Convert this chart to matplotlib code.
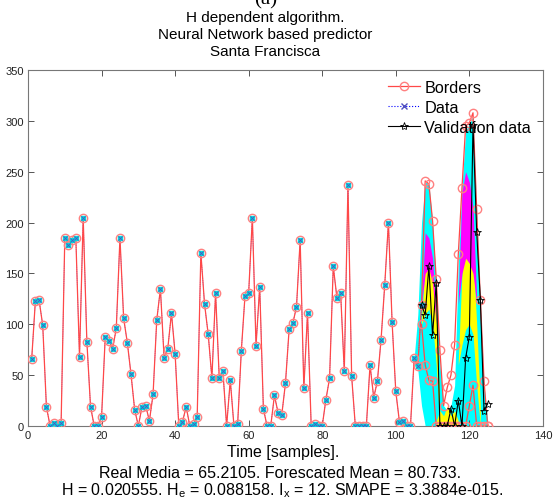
import matplotlib
matplotlib.use("Agg")
import matplotlib.pyplot as plt
import numpy as np
from matplotlib.lines import Line2D

plt.rcParams["font.family"] = ["Liberation Sans", "DejaVu Sans"]

# observed series (samples 1..104) followed by the upper border of the forecast zone
t_all = np.arange(1, 126)
borders = [66, 123, 124, 99, 19, 0, 3, 0, 3, 185, 178, 183, 185, 68, 205, 83, 19, 0, 0, 9,
           88, 84, 76, 96, 185, 106, 82, 51, 16, 0, 19, 20, 5, 31, 104, 135, 67, 76, 111, 71,
           0, 4, 19, 0, 2, 9, 170, 120, 90, 47, 131, 47, 54, 0, 45, 0, 2, 74, 128, 131,
           205, 79, 137, 17, 0, 0, 30, 13, 11, 42, 95, 101, 117, 183, 37, 111, 0, 2, 0, 0,
           26, 47, 157, 126, 131, 54, 237, 49, 0, 0, 0, 0, 60, 28, 44, 85, 139, 200, 102, 34,
           4, 5, 0, 0, 67, 59, 119, 241, 238, 202, 145, 75, 20, 38, 50, 80, 169, 234, 295, 298,
           308, 213, 124, 44, 0]

# lower border in the forecast zone
t_low = np.arange(107, 126)
low_border = [100, 60, 45, 44, 0, 0, 0, 0, 0, 0, 0, 0, 0, 20, 40, 0, 0, 0, 0]

# data = observed part
t_data = np.arange(1, 108)
data = borders[:107]

# validation data
t_val = np.arange(107, 126)
validation = [119, 109, 157, 89, 141, 0, 0, 0, 17, 0, 25, 0, 67, 88, 296, 191, 124, 15, 22]

# forecast bands (cyan envelope, yellow and magenta inner bands)
t_fc = np.arange(105, 126)
cyan_lo = [60, 55, 20, 0, 0, 0, 0, 0, 0, 0, 0, 0, 0, 0, 0, 0, 0, 0, 0, 0, 0]
cyan_hi = [67, 110, 200, 240, 238, 200, 140, 60, 20, 15, 20, 40, 160, 235, 290, 297, 305, 210, 120, 40, 5]

t_y1 = [107, 108, 109, 110, 111, 112]
yel1_lo = [100, 110, 115, 100, 60, 0]
yel1_hi = [105, 160, 165, 150, 120, 10]
t_m1 = [107, 108, 109, 110, 111]
mag1_lo = [120, 150, 155, 140, 100]
mag1_hi = [125, 190, 185, 165, 105]

t_y2 = [117, 118, 119, 120, 121, 122, 123]
yel2_lo = [60, 80, 95, 100, 90, 40, 0]
yel2_hi = [65, 150, 195, 190, 170, 100, 20]
t_m2 = [117, 118, 119, 120, 121, 122]
mag2_lo = [120, 150, 165, 160, 150, 120]
mag2_hi = [125, 230, 250, 240, 215, 125]

t_yb = [111, 112, 113, 114, 115, 116, 117]
yelb_hi = [5, 15, 10, 20, 10, 15, 5]

fig = plt.figure(figsize=(5.56, 5.02), dpi=100)
ax = fig.add_axes([0.0504, 0.1494, 0.926, 0.709])

ax.fill_between(t_fc, cyan_lo, cyan_hi, color="#00ffff", lw=0, zorder=1)
ax.fill_between(t_y1, yel1_lo, yel1_hi, color="#ffff00", lw=0, zorder=1.2)
ax.fill_between(t_m1, mag1_lo, mag1_hi, color="#ff00ff", lw=0, zorder=1.3)
ax.fill_between(t_y2, yel2_lo, yel2_hi, color="#ffff00", lw=0, zorder=1.2)
ax.fill_between(t_m2, mag2_lo, mag2_hi, color="#ff00ff", lw=0, zorder=1.3)
ax.fill_between(t_yb, 0, yelb_hi, color="#ffff00", lw=0, zorder=1.2)

ax.plot(t_data, data, ":", color="blue", lw=0.5, zorder=2)
ax.plot(t_all, borders, "-", color="#ff4848", lw=0.9, marker="o", ms=6,
        mfc="none", mec="#ff8080", mew=1.0, zorder=3)
ax.plot(t_low, low_border, "-", color="#ff4848", lw=0.9, marker="o", ms=6,
        mfc="none", mec="#ff8080", mew=1.0, zorder=3)
ax.plot(t_data, data, "s", color="#00dddd", ms=3, zorder=3.5)
ax.plot(t_data, data, "x", color="#5050c0", ms=2.5, mew=0.6, zorder=3.6)
ax.plot(t_val, validation, "-", color="black", lw=0.8, marker="*", ms=6,
        mfc="none", mec="black", mew=0.6, zorder=4)

ax.set_xlim(0, 140)
ax.set_ylim(0, 350)
ax.set_xticks(np.arange(0, 141, 20))
ax.set_yticks(np.arange(0, 351, 50))
ax.tick_params(direction="in", length=4, width=0.7, top=True, right=True,
               labelsize=8, colors="#555555", labelcolor="#222222", pad=3)
for s in ax.spines.values():
    s.set_color("#777777")
    s.set_linewidth(0.8)

handles = [
    Line2D([], [], color="#ff4848", lw=0.9, marker="o", ms=6, mfc="none", mec="#ff8080"),
    Line2D([], [], color="blue", ls=":", lw=0.8, marker="x", ms=4, mec="#5050c0"),
    Line2D([], [], color="black", lw=0.8, marker="*", ms=6, mfc="none", mec="black", mew=0.6),
]
ax.legend(handles, ["Borders", "Data", "Validation data"], loc="upper left",
          bbox_to_anchor=(0.686, 0.99), frameon=False, fontsize=11.7,
          handlelength=2.0, handletextpad=0.25, labelspacing=0.3, borderaxespad=0)

fig.text(0.477, 1.0, "(a)", ha="center", va="center", fontsize=15, family="Liberation Serif")
fig.text(0.477, 1 - 18 / 502, "H dependent algorithm.", ha="center", va="center", fontsize=11)
fig.text(0.477, 1 - 35 / 502, "Neural Network based predictor", ha="center", va="center", fontsize=11)
fig.text(0.477, 1 - 52 / 502, "Santa Francisca", ha="center", va="center", fontsize=11)

fig.text(0.51, 1 - 453 / 502, "Time [samples].", ha="center", va="center", fontsize=11.5)
fig.text(0.503, 1 - 474 / 502, "Real Media = 65.2105. Forescated Mean = 80.733.",
         ha="center", va="center", fontsize=11.5)
fig.text(0.507, 1 - 491 / 502,
         r"H = 0.020555. H$_\mathregular{e}$ = 0.088158. I$_\mathregular{x}$ = 12. SMAPE = 3.3884e-015.",
         ha="center", va="center", fontsize=11.5)

fig.savefig("out.png", dpi=100)
